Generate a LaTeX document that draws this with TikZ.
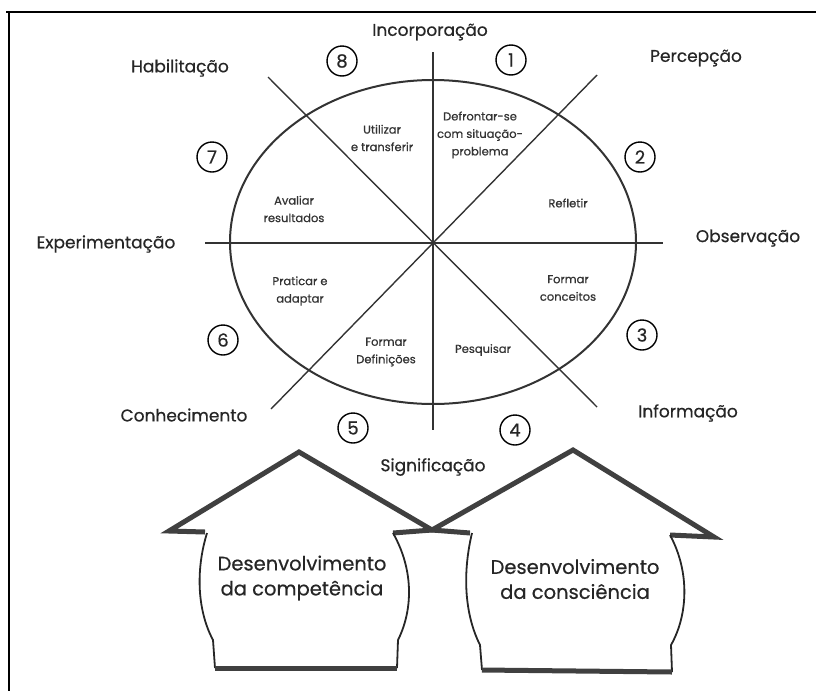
\documentclass[tikz,border=0pt]{standalone}
\usepackage{fontspec}
\setmainfont{Poppins}[FakeBold=0.6]
\usetikzlibrary{positioning}

\begin{document}
\begin{tikzpicture}[x=1pt, y=-1pt,
  lbl/.style={font=\fontsize{17}{18}\selectfont, text=black!85},
  sect/.style={font=\fontsize{11.5}{17.5}\selectfont, align=center, text=black!80, inner sep=0pt},
  num/.style={draw, circle, line width=1.4pt, minimum size=30pt, inner sep=0pt, font=\fontsize{18}{18}\selectfont, text=black!85},
  spoke/.style={line width=1.4pt, black!80},
  roof/.style={line width=5pt, black!75, line join=miter},
  wall/.style={line width=1.8pt, black!85},
  big/.style={font=\fontsize{19.5}{25}\selectfont, align=center, text=black!85}]
\useasboundingbox (0,0) rectangle (816,691);
\draw[line width=2pt] (6,12) -- (816,12);
\draw[line width=2pt] (9,12) -- (9,691);

% wheel
\coordinate (c) at (433,242);
\coordinate (n) at (433,52);
\coordinate (s) at (433,430);
\coordinate (w) at (205,243);
\coordinate (e) at (663,243);
\coordinate (nw) at (268,77);
\coordinate (se) at (597,407);
\coordinate (ne) at (597,75);
\coordinate (sw) at (271,409);
\draw[line width=2pt, black!80] (c) ellipse [x radius=203, y radius=162];
\draw[spoke] (n) -- (s);
\draw[spoke] (w) -- (e);
\draw[spoke] (nw) -- (se);
\draw[spoke] (ne) -- (sw);

\node[lbl] (inc) at (430,32) {Incorporação};
\node[lbl] (perc) at (696,58) {Percepção};
\node[lbl] (obs) at (748,238) {Observação};
\node[lbl] (inf) at (688,413) {Informação};
\node[lbl] (sig) at (433,467) {Significação};
\node[lbl] (con) at (184,415) {Conhecimento};
\node[lbl] (exp) at (106,244) {Experimentação};
\node[lbl] (hab) at (180,68) {Habilitação};

\node[num] (n1) at (511,60) {1};
\node[num] (n2) at (640,157) {2};
\node[num] (n3) at (642,335) {3};
\node[num] (n4) at (515,430) {4};
\node[num] (n5) at (353,428) {5};
\node[num] (n6) at (223,340) {6};
\node[num] (n7) at (212,157) {7};
\node[num] (n8) at (342,61) {8};

\node[sect] (def) at (480,135) {Defrontar-se\\com situação-\\problema};
\node[sect] (ref) at (568,203) {Refletir};
\node[sect] (form) at (568,288) {Formar\\conceitos};
\node[sect] (pesq) at (483,350) {Pesquisar};
\node[sect] (fdef) at (386,352) {Formar\\Definições};
\node[sect] (prat) at (300,291) {Praticar e\\adaptar};
\node[sect] (aval) at (294,209) {Avaliar\\resultados};
\node[sect] (util) at (382,138) {Utilizar\\e transferir};

% houses
\draw[roof] (205,532) -- (169,531) -- (299,452) -- (432,530) -- (393,533);
\draw[wall] (207,533) .. controls (195,572) and (198,612) .. (213,640) -- (215,668);
\draw[wall] (393,533) .. controls (415,572) and (412,612) .. (398,640) -- (397,668);
\draw[roof] (215,668) -- (397,668);
\node[big] (comp) at (302,578) {Desenvolvimento\\da competência};

\draw[roof] (470,533) -- (432,530) -- (573,450) -- (714,537) -- (670,535);
\draw[wall] (472,533) .. controls (462,575) and (465,615) .. (480,645) -- (482,670);
\draw[wall] (670,535) .. controls (690,572) and (688,615) .. (671,645) -- (672,672);
\draw[roof] (482,670) -- (672,672);
\node[big] (cons) at (575,579) {Desenvolvimento\\da consciência};
\end{tikzpicture}
\end{document}
